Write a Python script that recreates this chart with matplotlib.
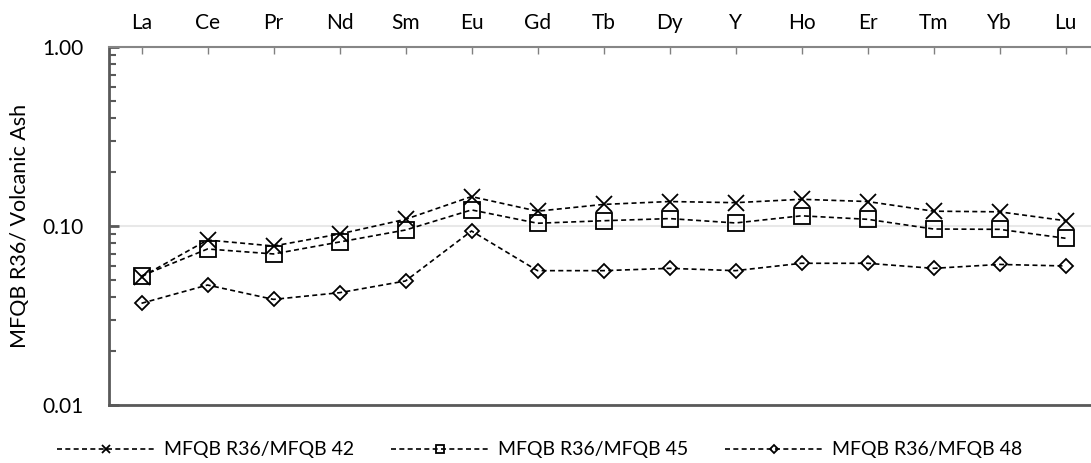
import numpy as np
import matplotlib.pyplot as plt
from matplotlib.ticker import FixedLocator, FormatStrFormatter, LogLocator, NullFormatter

plt.rcParams['font.family'] = ['Lato', 'DejaVu Sans']

# data
elements = ['La', 'Ce', 'Pr', 'Nd', 'Sm', 'Eu', 'Gd', 'Tb', 'Dy', 'Y', 'Ho', 'Er', 'Tm', 'Yb', 'Lu']
r36_42 = [0.052, 0.0835, 0.0773, 0.0902, 0.109, 0.146, 0.121, 0.132, 0.137, 0.135, 0.141, 0.137, 0.121, 0.120, 0.107]
r36_45 = [0.0526, 0.0744, 0.0698, 0.0814, 0.095, 0.123, 0.1036, 0.107, 0.110, 0.104, 0.114, 0.109, 0.0962, 0.0958, 0.0854]
r36_48 = [0.037, 0.0468, 0.0389, 0.0424, 0.0493, 0.0938, 0.0563, 0.0563, 0.058, 0.0563, 0.0619, 0.0619, 0.058, 0.061, 0.0598]
labels = ['MFQB R36/MFQB 42', 'MFQB R36/MFQB 45', 'MFQB R36/MFQB 48']

fig = plt.figure(figsize=(10.91, 4.63), dpi=100)
ax = fig.add_axes([108.5/1091, 1-405/463, 990/1091, 358/463])

x = np.arange(len(elements))
style = dict(color='black', linestyle=(0, (3, 2)), linewidth=1.2,
             markeredgewidth=1.3, fillstyle='none')
ax.plot(x, r36_42, marker='x', markersize=11, label=labels[0], **style)
ax.plot(x, r36_45, marker='s', markersize=11, label=labels[1], **style)
ax.plot(x, r36_48, marker='D', markersize=7.5, label=labels[2], **style)

ax.set_yscale('log')
ax.set_ylim(0.01, 1)
ax.set_xlim(-0.5, 14.5)
ax.yaxis.set_major_formatter(FormatStrFormatter('%.2f'))
ax.yaxis.set_minor_locator(LogLocator(base=10, subs=np.arange(2, 10)))
ax.yaxis.set_minor_formatter(NullFormatter())
ax.yaxis.grid(True, which='major', color='#e8e8e8', linewidth=1.5)
ax.set_axisbelow(True)

ax.xaxis.set_major_locator(FixedLocator(x))
ax.set_xticklabels(elements)
ax.xaxis.tick_top()
ax.tick_params(axis='x', direction='in', length=5, width=1, color='#808080',
               labelsize=15, pad=10)
ax.tick_params(axis='y', which='major', direction='in', length=7, width=2,
               color='#595959', labelsize=15, pad=18)
ax.tick_params(axis='y', which='minor', direction='in', length=5, width=1.5,
               color='#595959')

ax.spines['right'].set_visible(False)
ax.spines['left'].set_color('#595959')
ax.spines['left'].set_linewidth(2)
ax.spines['top'].set_color('#868686')
ax.spines['bottom'].set_color('#595959')
ax.spines['top'].set_linewidth(1.5)
ax.spines['bottom'].set_linewidth(2)

fig.text(20/1091, 1-226/463, 'MFQB R36/ Volcanic Ash', rotation=90,
         ha='center', va='center', fontsize=15.5)

handles, labs = ax.get_legend_handles_labels()
fig.legend(handles, labs, loc='center', bbox_to_anchor=(540/1091, 1-450/463),
           ncol=3, frameon=False, fontsize=14, handlelength=5.0,
           handletextpad=0.5, columnspacing=1.9, markerscale=0.55)

fig.savefig('out.png', dpi=100)
